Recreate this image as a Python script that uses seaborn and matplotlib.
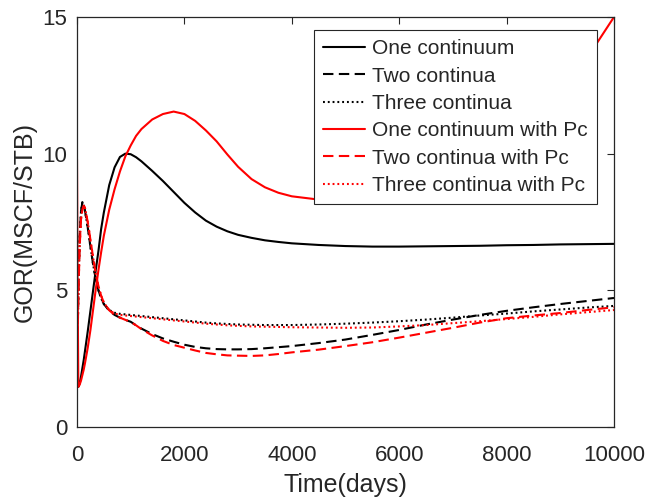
import matplotlib
matplotlib.use("Agg")
import matplotlib.pyplot as plt
import seaborn as sns
import pandas as pd

# ---- data ----
time_days = [0, 10, 25, 50, 75, 100, 125, 150, 200, 250, 300, 350, 400, 450, 500, 600, 700, 800,
             900, 1000, 1100, 1200, 1400, 1600, 1800, 2000, 2200, 2400, 2600, 2800, 3000, 3250,
             3500, 3750, 4000, 4500, 5000, 5500, 6000, 6500, 7000, 7500, 8000, 8500, 9000, 9500, 10000]

one_continuum = [1.5, 1.47, 1.47, 1.6, 1.85, 2.15, 2.45, 2.8, 3.5, 4.25, 5.0, 5.75, 6.45, 7.25, 7.85,
                 8.85, 9.5, 9.88, 10.0, 9.98, 9.87, 9.72, 9.37, 9.0, 8.6, 8.2, 7.85, 7.55, 7.33, 7.16,
                 7.03, 6.92, 6.83, 6.77, 6.72, 6.66, 6.62, 6.6, 6.6, 6.61, 6.62, 6.63, 6.65, 6.66,
                 6.68, 6.69, 6.7]
two_continua = [1.5, 3.0, 5.0, 7.0, 7.9, 8.22, 8.15, 7.9, 7.3, 6.6, 5.95, 5.4, 5.0, 4.7, 4.5,
                4.25, 4.1, 4.0, 3.92, 3.85, 3.72, 3.6, 3.4, 3.24, 3.12, 3.01, 2.93, 2.88, 2.85, 2.84,
                2.84, 2.85, 2.88, 2.92, 2.96, 3.07, 3.2, 3.37, 3.55, 3.75, 3.93, 4.1, 4.25, 4.38,
                4.5, 4.61, 4.72]
three_continua = [1.5, 3.0, 5.0, 7.0, 7.9, 8.22, 8.15, 7.9, 7.3, 6.6, 5.95, 5.4, 5.0, 4.7, 4.5,
                  4.28, 4.18, 4.14, 4.12, 4.1, 4.08, 4.06, 4.02, 3.98, 3.94, 3.9, 3.86, 3.82, 3.79,
                  3.77, 3.75, 3.74, 3.73, 3.73, 3.73, 3.75, 3.78, 3.82, 3.87, 3.93, 4.0, 4.08, 4.15,
                  4.23, 4.3, 4.37, 4.43]
one_continuum_pc = [9.8, 5.6, 1.47, 1.55, 1.7, 1.9, 2.1, 2.35, 2.9, 3.55, 4.3, 5.05, 5.75, 6.4, 7.0,
                    7.95, 8.7, 9.35, 9.9, 10.3, 10.65, 10.9, 11.25, 11.45, 11.54, 11.45, 11.2, 10.85,
                    10.45, 9.97, 9.52, 9.07, 8.77, 8.57, 8.44, 8.32, 8.32, 8.38, 8.5, 8.85, 9.3, 9.9,
                    10.6, 11.4, 12.3, 13.5, 15.0]
two_continua_pc = [1.5, 3.0, 4.8, 6.6, 7.6, 7.95, 8.1, 8.0, 7.5, 6.85, 6.2, 5.6, 5.15, 4.8, 4.55,
                   4.27, 4.1, 4.0, 3.92, 3.84, 3.72, 3.58, 3.35, 3.15, 3.0, 2.9, 2.8, 2.71, 2.66, 2.62,
                   2.61, 2.6, 2.62, 2.67, 2.73, 2.83, 2.96, 3.1, 3.27, 3.45, 3.63, 3.82, 3.98, 4.08,
                   4.17, 4.28, 4.38]
three_continua_pc = [1.5, 3.0, 4.8, 6.6, 7.6, 7.95, 8.1, 8.0, 7.5, 6.85, 6.2, 5.6, 5.15, 4.8, 4.55,
                     4.28, 4.15, 4.1, 4.08, 4.06, 4.04, 4.02, 3.98, 3.94, 3.9, 3.86, 3.82, 3.78, 3.75,
                     3.72, 3.7, 3.68, 3.67, 3.66, 3.65, 3.64, 3.63, 3.64, 3.68, 3.73, 3.8, 3.87, 3.95,
                     4.03, 4.12, 4.2, 4.28]

labels = ["One continuum", "Two continua", "Three continua",
          "One continuum with Pc", "Two continua with Pc", "Three continua with Pc"]
x_ticks = [0, 2000, 4000, 6000, 8000, 10000]
y_ticks = [0, 5, 10, 15]

# ---- style ----
sns.set_style("white")
plt.rcParams["font.family"] = ["Liberation Sans", "DejaVu Sans"]

fig = plt.figure(figsize=(6.47, 4.99), dpi=100)
ax = fig.add_axes([77/647, 1 - 427/499, (614-77)/647, (427-17)/499])

series = [one_continuum, two_continua, three_continua,
          one_continuum_pc, two_continua_pc, three_continua_pc]
colors = ["black", "black", "black", "#ff0000", "#ff0000", "#ff0000"]
dash_styles = ["-", (0, (5, 2.6)), (0, (0.9, 1.4)), "-", (0, (5, 2.6)), (0, (0.9, 1.4))]

for vals, lab, c, ls in zip(series, labels, colors, dash_styles):
    df = pd.DataFrame({"t": time_days, "gor": vals})
    sns.lineplot(data=df, x="t", y="gor", ax=ax, color=c, linestyle=ls,
                 linewidth=1.5, label=lab, sort=False, estimator=None)

ax.set_xlim(0, 10000)
ax.set_ylim(0, 15)
ax.set_xticks(x_ticks)
ax.set_yticks(y_ticks)
ax.set_xlabel("Time(days)", fontsize=18, color="#262626", labelpad=5)
ax.set_ylabel("GOR(MSCF/STB)", fontsize=18, color="#262626", labelpad=4)
ax.tick_params(direction="in", length=5, width=0.8, colors="#262626",
               labelsize=16, top=True, right=True)
ax.tick_params(axis="x", pad=13)
ax.tick_params(axis="y", pad=7)
for s in ax.spines.values():
    s.set_visible(True)
    s.set_color("#262626")
    s.set_linewidth(0.9)

leg = ax.legend(loc="upper right", bbox_to_anchor=(597/647, 1 - 30/499),
                bbox_transform=fig.transFigure, fontsize=15, frameon=True,
                fancybox=False, framealpha=1, edgecolor="#262626",
                handlelength=2.0, handletextpad=0.35, labelspacing=0.4,
                borderpad=0.45, borderaxespad=0)
leg.get_frame().set_linewidth(0.8)
for txt in leg.get_texts():
    txt.set_color("#262626")

fig.savefig("out.png", dpi=100)
